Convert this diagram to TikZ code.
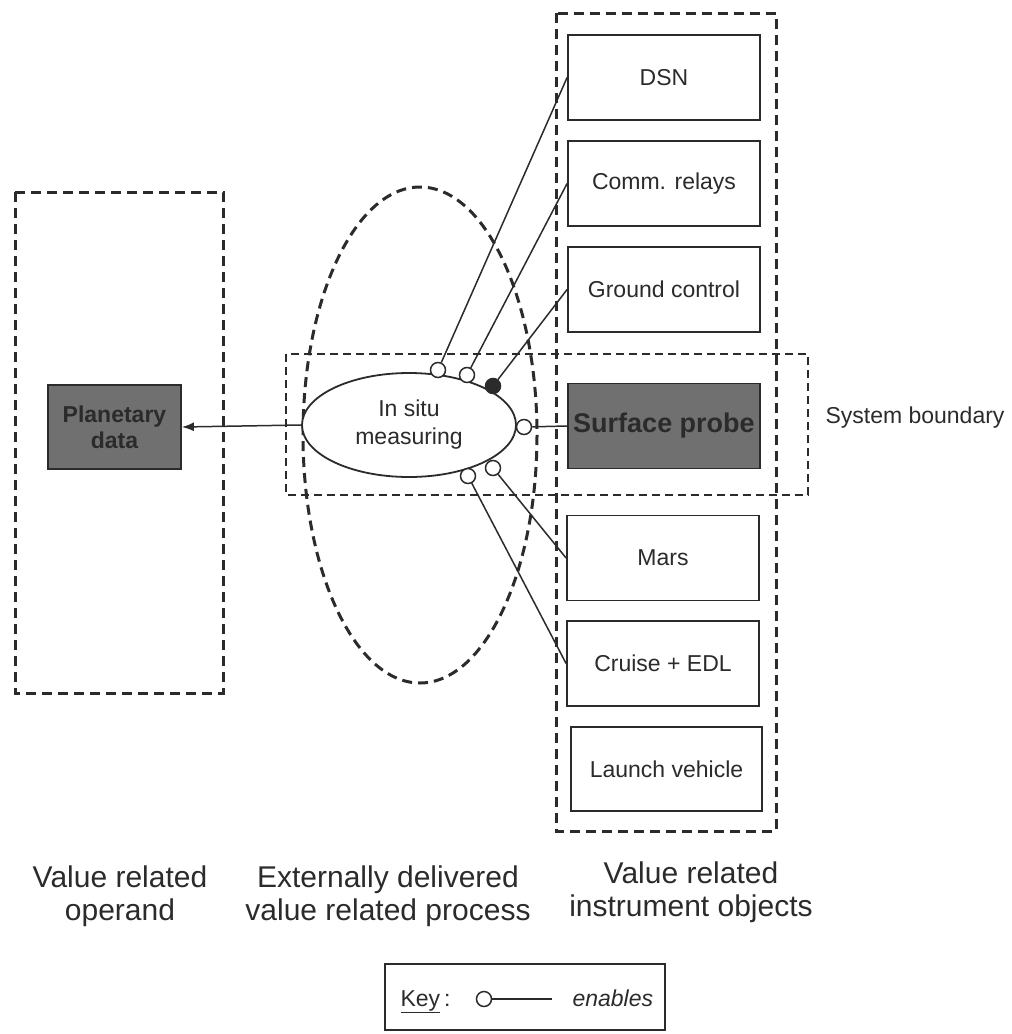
\documentclass[tikz,border=0pt]{standalone}
\usepackage{fontspec}
\setmainfont{Liberation Sans}
\usetikzlibrary{arrows.meta,shapes.geometric}
\definecolor{ink}{HTML}{2B2B2B}
\definecolor{boxgray}{HTML}{707070}
\begin{document}
\begin{tikzpicture}[x=1pt,y=-1pt,
  every node/.style={text=ink, font=\fontsize{23}{28}\selectfont},
  objbox/.style={draw=ink, line width=1.8pt, fill=white, minimum width=192pt, minimum height=85pt, inner sep=0pt, align=center},
  graybox/.style={objbox, fill=boxgray},
  bigdash/.style={draw=ink, line width=3pt, dash pattern=on 10pt off 6pt},
  thindash/.style={draw=ink, line width=1.1pt, dash pattern=on 8pt off 5pt},
  link/.style={draw=ink, line width=1.5pt},
  knob/.style={circle, draw=ink, line width=1.5pt, fill=white, minimum size=15pt, inner sep=0pt},
  knobfull/.style={knob, fill=ink},
  caption/.style={font=\fontsize{30}{33}\selectfont, align=center}]

\useasboundingbox (0,0) rectangle (1012,1034);

% dashed groupings
\draw[bigdash] (15,192) rectangle (223,693);
\draw[bigdash] (420,435) ellipse [x radius=117, y radius=248];
\draw[thindash] (286,354) rectangle (808,495);
\draw[bigdash] (556,13) rectangle (776,831);

% operand
\node[graybox, minimum width=133pt, minimum height=84pt, font=\bfseries\fontsize{23}{26}\selectfont] (pd) at (114.5,427) {Planetary\\data};

% process
\node[ellipse, draw=ink, line width=1.8pt, fill=white, minimum width=214pt, minimum height=104pt, inner sep=0pt, align=center] (insitu) at (409,425) {In situ\\measuring};

% instruments
\node[objbox] (dsn) at (664,77.5) {DSN};
\node[objbox] (comm) at (664,183.5) {Comm. relays};
\node[objbox] (ground) at (664,289.5) {Ground control};
\node[graybox, font=\bfseries\fontsize{27}{30}\selectfont] (probe) at (664,426) {Surface probe};
\node[objbox] (mars) at (663,558) {Mars};
\node[objbox] (cruise) at (663,663.5) {Cruise + EDL};
\node[objbox, minimum width=191pt, minimum height=84pt] (launch) at (666.5,769) {Launch vehicle};

% knobs
\node[knob] (c1) at (438,370) {};
\node[knob] (c2) at (467,375) {};
\node[knobfull] (c3) at (493,386) {};
\node[knob] (c4) at (524,427) {};
\node[knob] (c5) at (493,468) {};
\node[knob] (c6) at (468,476) {};

% connectors
\draw[link] (dsn.west) -- (c1);
\draw[link] (comm.west) -- (c2);
\draw[link] (ground.west) -- (c3);
\draw[link] (probe.west) -- (c4);
\draw[link] (mars.west) -- (c5);
\draw[link] (cruise.west) -- (c6);
\draw[link, -{Latex[length=12pt,width=9pt]}] (insitu.west) -- (pd.east);

% labels
\node[anchor=west] (sbl) at (822,418) {System boundary};
\node[caption] (lop) at (120,896) {Value related\\operand};
\node[caption] (lproc) at (388,896) {Externally delivered\\value related process};
\node[caption] (linst) at (691,892) {Value related\\instrument objects};

% key
\node[draw=ink, line width=1.5pt, minimum width=280pt, minimum height=66pt, inner sep=0pt] (key) at (525,997) {};
\node[anchor=base west] (keylbl) at (397,1006) {\underline{Key}\,:};
\node[knob] (kc) at (484,999) {};
\coordinate (ke) at (552,999);
\draw[link] (kc) -- (ke);
\node[anchor=base west, font=\itshape\fontsize{23}{28}\selectfont] (ken) at (569,1006) {enables};
\end{tikzpicture}
\end{document}
